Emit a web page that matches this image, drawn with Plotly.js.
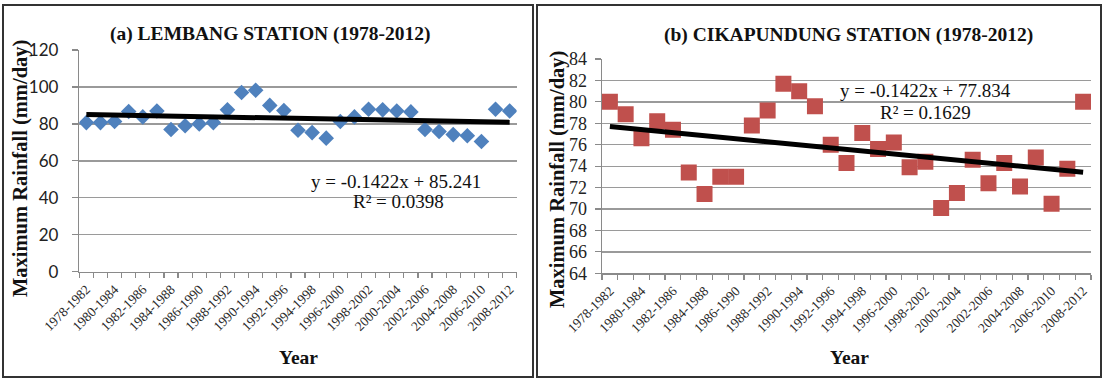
<!DOCTYPE html>
<html><head><meta charset="utf-8">
<script src="https://cdn.plot.ly/plotly-3.0.1.min.js"></script>
<style>html,body{margin:0;padding:0;background:#fff;} #chart{width:1104px;height:380px;}</style>
</head><body><div id="chart"></div>
<script>
// ---- data ----
const periods = ['1978-1982','1979-1983','1980-1984','1981-1985','1982-1986','1983-1987','1984-1988','1985-1989',
  '1986-1990','1987-1991','1988-1992','1989-1993','1990-1994','1991-1995','1992-1996','1993-1997','1994-1998',
  '1995-1999','1996-2000','1997-2001','1998-2002','1999-2003','2000-2004','2001-2005','2002-2006','2003-2007',
  '2004-2008','2005-2009','2006-2010','2007-2011','2008-2012'];
const tickLabels = ['1978-1982','1980-1984','1982-1986','1984-1988','1986-1990','1988-1992','1990-1994','1992-1996',
  '1994-1998','1996-2000','1998-2002','2000-2004','2002-2006','2004-2008','2006-2010','2008-2012'];
const lembang = [80.7,80.7,81.3,86.7,83.8,87.0,77.0,79.0,80.0,80.7,87.6,97.0,98.2,90.0,87.2,76.6,75.3,72.3,81.3,83.8,
  87.9,87.6,87.0,86.5,77.0,75.9,74.2,73.6,70.5,87.9,87.0];
const cikapundung = [80.0,78.85,76.6,78.2,77.4,73.4,71.4,73.0,73.0,77.8,79.2,81.7,81.0,79.6,76.0,74.3,77.1,75.6,76.2,
  73.9,74.4,70.1,71.5,74.6,72.4,74.3,72.1,74.8,70.5,73.75,80.0];
const trendX = ['1978-1982','2008-2012'];
const trendLembang = [85.10, 80.83];
const trendCikapundung = [77.69, 73.43];
const titleA = '(a) LEMBANG STATION (1978-2012)';
const titleB = '(b) CIKAPUNDUNG STATION (1978-2012)';
const eqA = ['y = -0.1422x + 85.241', 'R² = 0.0398'];
const eqB = ['y = -0.1422x + 77.834', 'R² = 0.1629'];
const yTitle = 'Maximum Rainfall (mm/day)';
const xTitle = 'Year';

// ---- layout helpers ----
const W = 1104, H = 380;
const fx = x => x / W, fy = y => (H - y) / H;
const SERIF = 'Liberation Serif';
const tickText = periods.map(p => tickLabels.includes(p) ? p : '');

function xAxis(l, r) {
  return {domain:[fx(l), fx(r)], type:'category', range:[-0.5, periods.length - 0.5],
    tickson:'boundaries', ticks:'outside', ticklen:5, tickcolor:'#8a8a8a', tickwidth:1.2,
    showline:true, linecolor:'#8a8a8a', linewidth:1.5, showgrid:false, zeroline:false,
    tickmode:'array', tickvals:periods, ticktext:tickText, tickangle:-45, ticklabelstandoff:3,
    tickfont:{family:SERIF, size:13.5, color:'#2a2a2a'}, fixedrange:true};
}
function yAxis(t, b, range, dtick, font, standoff) {
  return {domain:[fy(b), fy(t)], range:range, dtick:dtick, tick0:range[0], showgrid:true, gridcolor:'#9a9a9a',
    gridwidth:1.3, zeroline:false, showline:true, linecolor:'#8a8a8a', linewidth:1.5, ticks:'outside',
    ticklen:6, tickcolor:'#8a8a8a', tickwidth:1.2, tickfont:font, ticklabelstandoff:standoff, fixedrange:true};
}

const traces = [
  {x:periods, y:lembang, type:'scatter', mode:'markers', xaxis:'x', yaxis:'y',
    marker:{symbol:'diamond', size:12, color:'#4F81BD'}, hoverinfo:'skip'},
  {x:trendX, y:trendLembang, type:'scatter', mode:'lines', xaxis:'x', yaxis:'y',
    line:{color:'#000', width:5}, hoverinfo:'skip'},
  {x:periods, y:cikapundung, type:'scatter', mode:'markers', xaxis:'x2', yaxis:'y2',
    marker:{symbol:'square', size:16, color:'#C0504D'}, hoverinfo:'skip'},
  {x:trendX, y:trendCikapundung, type:'scatter', mode:'lines', xaxis:'x2', yaxis:'y2',
    line:{color:'#000', width:5}, hoverinfo:'skip'}
];

function ann(text, x, y, opts) {
  return Object.assign({text:text, x:fx(x), y:fy(y), xref:'paper', yref:'paper', showarrow:false,
    xanchor:'center', yanchor:'middle', font:{family:SERIF, size:19, color:'#111'}}, opts || {});
}

const layout = {
  width:W, height:H, margin:{l:0, r:0, t:0, b:0}, paper_bgcolor:'#fff', plot_bgcolor:'rgba(0,0,0,0)',
  showlegend:false,
  xaxis: xAxis(79.3, 516.7),
  yaxis: yAxis(50, 271.7, [0,120], 20, {family:'Lato', size:17, color:'#222'}, 10),
  xaxis2: Object.assign(xAxis(602, 1091), {anchor:'y2'}),
  yaxis2: Object.assign(yAxis(59, 273.3, [64,84], 2, {family:SERIF, size:18, color:'#222'}, 4), {anchor:'x2'}),
  annotations: [
    ann('<b>'+titleA+'</b>', 270, 34, {font:{family:SERIF, size:19.5, color:'#111'}}),
    ann('<b>'+titleB+'</b>', 848, 35, {font:{family:SERIF, size:19.5, color:'#111'}}),
    ann(eqA[0], 396, 181), ann(eqA[1], 398, 201),
    ann(eqB[0], 925, 91), ann(eqB[1], 925, 112),
    ann('<b>'+yTitle+'</b>', 20, 169, {textangle:-90, font:{family:SERIF, size:20.5, color:'#111'}}),
    ann('<b>'+yTitle+'</b>', 557, 180, {textangle:-90, font:{family:SERIF, size:20.5, color:'#111'}}),
    ann('<b>'+xTitle+'</b>', 298, 357, {font:{family:SERIF, size:19.5, color:'#111'}}),
    ann('<b>'+xTitle+'</b>', 849, 357, {font:{family:SERIF, size:19.5, color:'#111'}})
  ],
  shapes: [
    {type:'rect', xref:'paper', yref:'paper', x0:fx(3), x1:fx(533), y0:fy(377), y1:fy(5), line:{color:'#333', width:2}},
    {type:'rect', xref:'paper', yref:'paper', x0:fx(537), x1:fx(1101), y0:fy(377), y1:fy(5), line:{color:'#333', width:2}}
  ]
};

Plotly.newPlot('chart', traces, layout, {displayModeBar:false, staticPlot:true});
</script>
</body></html>
